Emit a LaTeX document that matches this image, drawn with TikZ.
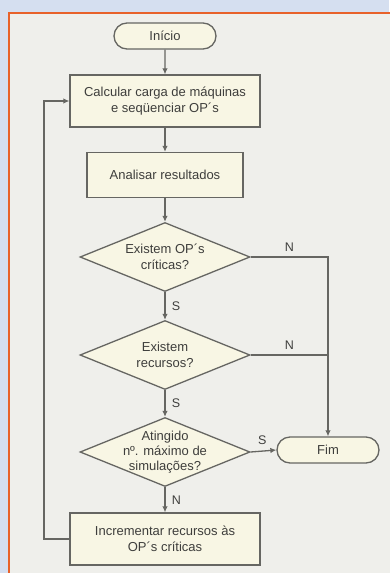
\documentclass[tikz,border=0pt]{standalone}
\usepackage{fontspec}
\setmainfont{Liberation Sans}
\usetikzlibrary{shapes.geometric,shapes.misc,arrows.meta}
\definecolor{bgblue}{HTML}{D5DFF0}
\definecolor{frameor}{HTML}{E8622A}
\definecolor{panel}{HTML}{EFEFEB}
\definecolor{nodefill}{HTML}{F8F6E4}
\definecolor{linec}{HTML}{666662}
\definecolor{txt}{HTML}{3E3E3C}
\begin{document}
\begin{tikzpicture}[x=1pt,y=-1pt,
  every node/.style={font=\fontsize{13}{16}\selectfont, text=txt},
  box/.style={draw=linec, fill=nodefill, line width=1.3pt, rectangle, align=center, inner sep=0pt},
  term/.style={draw=linec, fill=nodefill, line width=1.3pt, rounded rectangle, align=center, inner sep=0pt, minimum width=102pt, minimum height=26pt},
  dia/.style={draw=linec, fill=nodefill, line width=1.3pt, diamond, inner sep=0pt, minimum width=170pt, minimum height=69pt},
  conn/.style={draw=linec, line width=1.3pt},
  arr/.style={conn, -{Latex[length=6pt,width=5.5pt]}},
  lab/.style={font=\fontsize{12.5}{14}\selectfont}]
\fill[bgblue] (0,0) rectangle (389,573);
\useasboundingbox (0,0) rectangle (389,573);
\fill[panel] (9,13) rectangle (395,580);
\draw[frameor, line width=2.2pt] (9,580) -- (9,13) -- (395,13);

\node[term] (inicio) at (165,36) {Início};
\node[box, minimum width=190pt, minimum height=52pt] (calc) at (165,101) {Calcular carga de máquinas\\e seqüenciar OP´s};
\node[box, minimum width=156pt, minimum height=45pt] (anal) at (165,175) {Analisar resultados};
\node[dia] (d1) at (165,257) {};
\node[align=center] at (d1) {Existem OP´s\\críticas?};
\node[dia] (d2) at (165,355) {};
\node[align=center] at (d2) {Existem\\recursos?};
\node[dia] (d3) at (165,452) {};
\node[align=center, font=\fontsize{13}{15}\selectfont] at (d3) {Atingido\\nº. máximo de\\simulações?};
\node[term] (fim) at (328,450) {Fim};
\node[box, minimum width=190pt, minimum height=52pt] (incr) at (165,539) {Incrementar recursos às\\OP´s críticas};
\coordinate (loop) at (44,539);

\draw[arr] (inicio) -- (calc);
\draw[arr] (calc) -- (anal);
\draw[arr] (anal) -- (d1);
\draw[arr] (d1) -- node[lab, right, xshift=3pt] {S} (d2);
\draw[arr] (d2) -- node[lab, right, xshift=3pt] {S} (d3);
\draw[arr] (d3) -- node[lab, right, xshift=3pt] {N} (incr);
\draw[arr] (d3.east) -- node[lab, above, pos=0.45, yshift=3pt] {S} (fim.west);
\draw[arr] (d1.east) -- node[lab, above, pos=0.5, yshift=2pt] {N} (fim.north |- d1.east) -- (fim.north);
\draw[conn] (d2.east) -- node[lab, above, pos=0.5, yshift=2pt] {N} (fim.north |- d2.east);
\draw[arr] (incr.west) -- (loop) |- (calc.west);
\end{tikzpicture}
\end{document}
